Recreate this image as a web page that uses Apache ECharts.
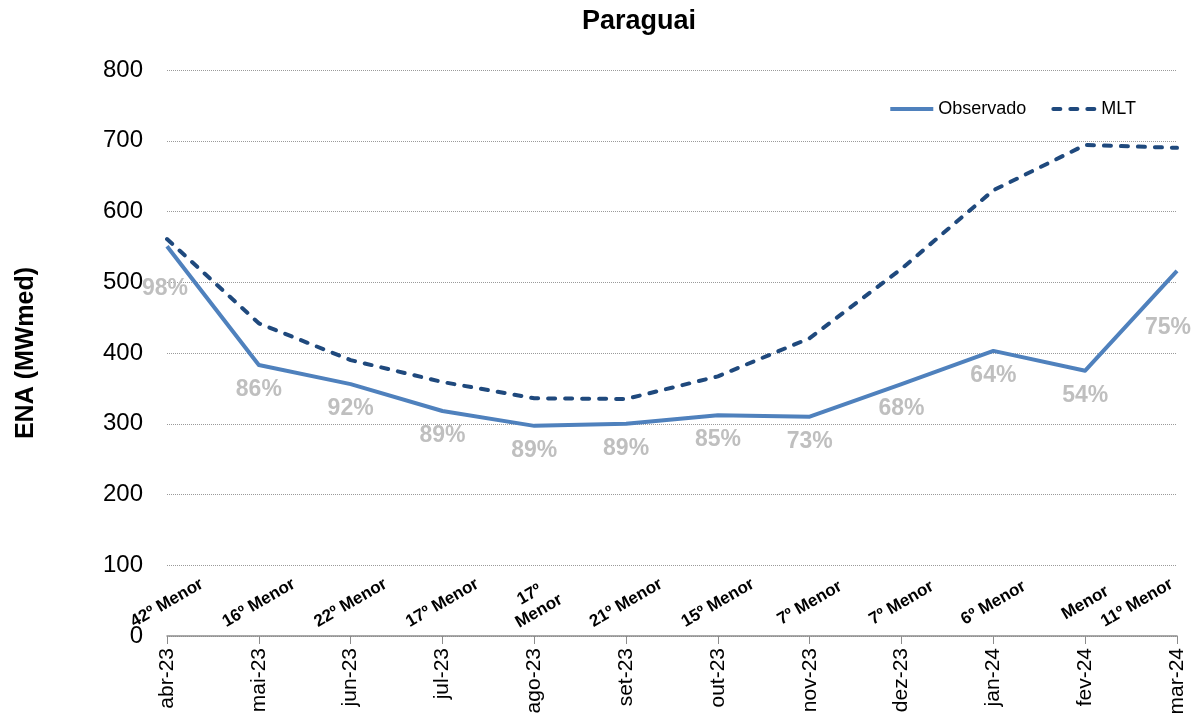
<!DOCTYPE html>
<html><head><meta charset="utf-8">
<script src="https://cdn.jsdelivr.net/npm/echarts@6/dist/echarts.min.js"></script>
<style>html,body{margin:0;padding:0;background:#fff}#c{width:1191px;height:721px}</style>
</head><body><div id="c"></div>
<script>
var months = ['abr-23','mai-23','jun-23','jul-23','ago-23','set-23','out-23','nov-23','dez-23','jan-24','fev-24','mar-24'];
var ranks = ['42º Menor','16º Menor','22º Menor','17º Menor','17º\nMenor','21º Menor','15º Menor','7º Menor','7º Menor','6º Menor','Menor','11º Menor'];
var observado = [551, 383, 356, 318, 297, 300, 312, 310, 356, 403, 375, 516];
var mlt = [561, 442, 390, 359, 336, 335, 367, 421, 519, 630, 694, 690];
var pct = ['98%','86%','92%','89%','89%','89%','85%','73%','68%','64%','54%','75%'];
var yTicks = [0,100,200,300,400,500,600,700,800];

var FONT = 'Liberation Sans, Arial, sans-serif';
var labelShift = {0: [-2, 18], 11: [-9, 32]};

var chart = echarts.init(document.getElementById('c'));
chart.setOption({
  animation: false,
  title: {text: 'Paraguai', left: 634, textAlign: 'center', top: 3, textStyle: {fontFamily: FONT, fontSize: 27, fontWeight: 'bold', color: '#000'}},
  legend: {
    right: 50, top: 95, itemWidth: 43, itemHeight: 12, itemGap: 25,
    itemStyle: {opacity: 0},
    lineStyle: {width: 4},
    textStyle: {fontFamily: FONT, fontSize: 18, color: '#000'},
    data: ['Observado','MLT']
  },
  grid: {left: 167, right: 14, top: 70, bottom: 85, containLabel: false, outerBoundsMode: 'none'},
  xAxis: [{
    type: 'category', data: months, boundaryGap: false,
    axisLine: {lineStyle: {color: '#8c8c8c', width: 1.5}},
    axisTick: {alignWithLabel: true, length: 8, lineStyle: {color: '#8c8c8c'}},
    axisLabel: {rotate: 90, fontFamily: FONT, fontSize: 21, color: '#000', margin: 12}
  },{
    type: 'category', data: ranks, boundaryGap: false, position: 'bottom',
    axisLine: {show: false}, axisTick: {show: false},
    axisLabel: {inside: true, rotate: 30, align: 'center', verticalAlign: 'middle',
      fontFamily: FONT, fontSize: 17, fontWeight: 'bold', color: '#000', margin: 33, lineHeight: 19,
      formatter: function(v, i){ return i === ranks.length - 1 ? '{last|' + v + '}' : v; },
      rich: {last: {fontFamily: FONT, fontSize: 17, fontWeight: 'bold', color: '#000', padding: [0, 69, 40, 0]}}}
  }],
  yAxis: {
    type: 'value', min: 0, max: 800, interval: 100,
    name: 'ENA (MWmed)', nameLocation: 'middle', nameGap: 128,
    nameTextStyle: {fontFamily: FONT, fontSize: 25, fontWeight: 'bold', color: '#000'},
    axisLine: {show: false}, axisTick: {show: false},
    axisLabel: {fontFamily: FONT, fontSize: 24, color: '#000', margin: 24,
      formatter: function(v){ return yTicks.indexOf(v) >= 0 ? String(v) : ''; }},
    splitLine: {lineStyle: {color: '#9a9a9a', type: 'dotted', width: 1}}
  },
  series: [{
    name: 'Observado', type: 'line', data: observado, symbol: 'circle', symbolSize: 0, showSymbol: true,
    lineStyle: {color: '#4F81BD', width: 4, join: 'round'}, itemStyle: {color: '#4F81BD'},
    label: {show: true, position: 'bottom', distance: 13,
      formatter: function(p){ return pct[p.dataIndex]; },
      fontFamily: FONT, fontSize: 23, fontWeight: 'bold', color: '#BFBFBF'},
    labelLayout: function(p){
      var s = labelShift[p.dataIndex];
      return s ? {dx: s[0], dy: s[1], hideOverlap: false} : {hideOverlap: false};
    },
    z: 3
  },{
    name: 'MLT', type: 'line', data: mlt, symbol: 'circle', symbolSize: 0, showSymbol: false,
    lineStyle: {color: '#1F497D', width: 4, type: [7, 10], cap: 'round', join: 'round'}, itemStyle: {color: '#1F497D'},
    z: 2
  }]
});
</script></body></html>
